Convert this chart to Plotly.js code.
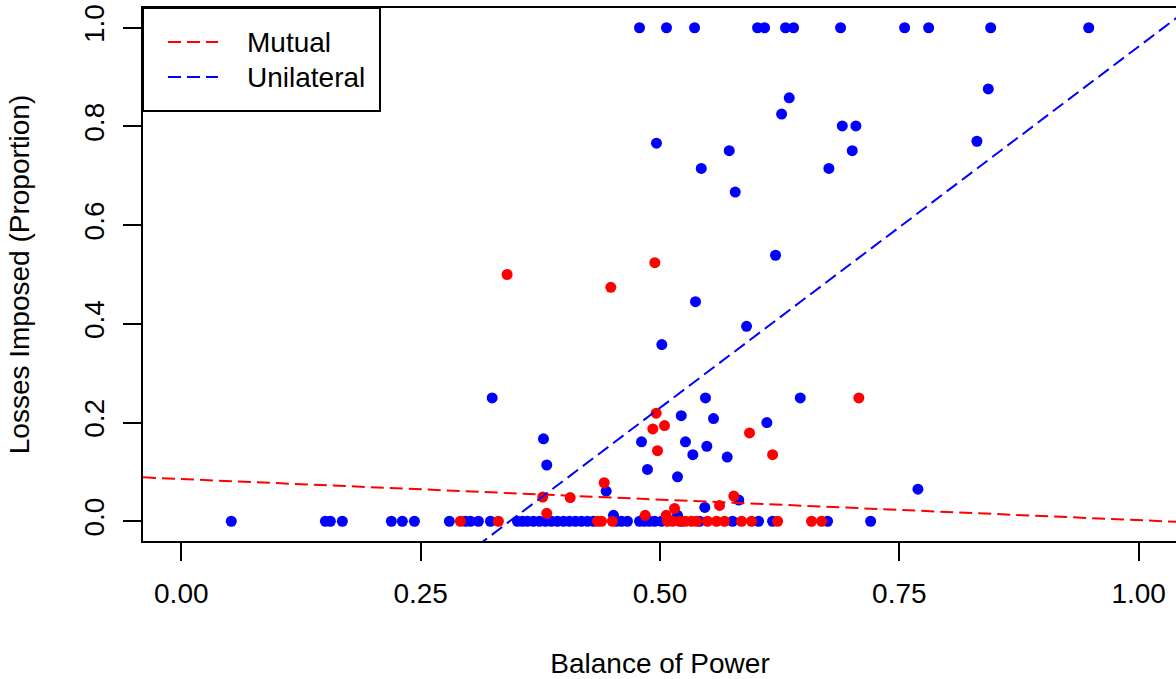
<!DOCTYPE html>
<html>
<head>
<meta charset="utf-8">
<script src="https://cdn.plot.ly/plotly-3.0.1.min.js"></script>
<style>
html,body{margin:0;padding:0;overflow:hidden;background:#fff;}
#chart{width:1178px;height:679px;}
</style>
</head>
<body>
<div id="chart"></div>
<script>
// ---- Data ----
const mutualX = [0.2915,0.3312,0.4347,0.4389,0.4503,0.5078,0.5131,0.5204,0.5266,0.5329,0.5381,0.5496,0.5590,0.5674,0.5852,0.5956,0.6228,0.6583,0.6688,
  0.3403,0.4946,0.4486,0.7077,0.4960,0.5047,0.4925,0.5935,0.4974,0.6176,0.4417,0.3775,0.4062,0.5771,0.5622,0.5152,0.3817,0.4845,0.5065];
const mutualY = [0,0,0,0,0,0,0,0,0,0,0,0,0,0,0,0,0,0,0,
  0.500,0.524,0.474,0.250,0.219,0.194,0.187,0.179,0.143,0.135,0.078,0.049,0.048,0.051,0.032,0.026,0.016,0.012,0.012];

const unilateralX = [0.0522,0.1505,0.1557,0.1682,0.2194,0.2309,0.2435,0.2800,0.2968,0.3020,0.3103,0.3229,
  0.3511,0.3563,0.3615,0.3678,0.3741,0.3804,0.3866,0.3929,0.3992,0.4054,0.4117,0.4180,0.4242,0.4305,
  0.4545,0.4598,0.4660,0.4786,0.4838,0.4890,0.4943,0.5016,0.5225,0.5413,0.5758,0.6029,0.6176,0.6750,0.7200,
  0.4786,0.5068,0.5361,0.6019,0.6092,0.6311,0.6395,0.6886,0.7555,0.7806,0.8454,0.9478,
  0.8429,0.6350,0.6270,0.6904,0.7046,0.4963,0.8310,0.5723,0.7008,0.5431,0.6764,0.5786,0.6207,0.5371,0.5904,0.5019,
  0.3247,0.5475,0.6465,0.5222,0.5559,0.6116,0.3783,0.4807,0.5266,0.5489,0.5343,0.5702,0.3817,0.4869,0.5183,
  0.4438,0.7694,0.5823,0.5468,0.4514,0.5183];
const unilateralY = [0,0,0,0,0,0,0,0,0,0,0,0,
  0,0,0,0,0,0,0,0,0,0,0,0,0,0,
  0,0,0,0,0,0,0,0,0,0,0,0,0,0,0,
  1,1,1,1,1,1,1,1,1,1,1,1,
  0.876,0.858,0.825,0.801,0.801,0.766,0.770,0.751,0.751,0.715,0.715,0.667,0.539,0.445,0.395,0.358,
  0.250,0.250,0.250,0.214,0.208,0.200,0.167,0.161,0.161,0.152,0.135,0.130,0.114,0.105,0.090,
  0.061,0.065,0.043,0.028,0.012,0.012];

// fitted lines: intercept and slope per group
const lineNames = ["Mutual", "Unilateral"];
const lineIntercepts = [0.0856, -0.5024];
const lineSlopes = [-0.0834, 1.4644];
const lineColors = ["#ff0000", "#0000ff"];

const xTickVals = [0, 0.25, 0.5, 0.75, 1];
const xTickText = ["0.00", "0.25", "0.50", "0.75", "1.00"];
const yTickVals = [0, 0.2, 0.4, 0.6, 0.8, 1];
const yTickText = ["0.0", "0.2", "0.4", "0.6", "0.8", "1.0"];

const xRange = [-0.04, 1.04];
const yRange = [-0.04, 1.04];
const FONT = "Liberation Sans, Arial, Helvetica, sans-serif";
const DASH = "13px,6px";

const traces = [];
traces.push({
  x: unilateralX, y: unilateralY, type: "scatter", mode: "markers",
  marker: {color: "#0000ff", size: 11}, showlegend: false, hoverinfo: "x+y", cliponaxis: true
});
traces.push({
  x: mutualX, y: mutualY, type: "scatter", mode: "markers",
  marker: {color: "#ff0000", size: 11}, showlegend: false, hoverinfo: "x+y", cliponaxis: true
});
for (let i = 0; i < lineNames.length; i++) {
  traces.push({
    x: xRange,
    y: xRange.map(v => lineIntercepts[i] + lineSlopes[i] * v),
    type: "scatter", mode: "lines", name: lineNames[i],
    line: {color: lineColors[i], width: 2, dash: DASH},
    showlegend: false, hoverinfo: "skip"
  });
}

// legend drawn in paper coords at the top-left corner of the plot
const shapes = [
  {type: "rect", xref: "paper", yref: "paper", x0: 0, x1: 0.2292, y0: 0.8068, y1: 1,
   line: {color: "#000", width: 2}, fillcolor: "#fff", layer: "above"},
  {type: "line", xref: "paper", yref: "paper", x0: 0.0242, x1: 0.0726, y0: 0.9362, y1: 0.9362,
   line: {color: lineColors[0], width: 2, dash: DASH}, layer: "above"},
  {type: "line", xref: "paper", yref: "paper", x0: 0.0242, x1: 0.0726, y0: 0.8705, y1: 0.8705,
   line: {color: lineColors[1], width: 2, dash: DASH}, layer: "above"}
];
const annotations = [
  {xref: "paper", yref: "paper", x: 0.0985, y: 0.9362, xanchor: "left", yanchor: "middle",
   text: lineNames[0], showarrow: false, font: {family: FONT, size: 28, color: "#000"}},
  {xref: "paper", yref: "paper", x: 0.0985, y: 0.8705, xanchor: "left", yanchor: "middle",
   text: lineNames[1], showarrow: false, font: {family: FONT, size: 28, color: "#000"}}
];

const layout = {
  width: 1178, height: 679,
  margin: {l: 143, r: 1, t: 8, b: 138},
  paper_bgcolor: "#fff", plot_bgcolor: "#fff",
  font: {family: FONT, size: 28, color: "#000"},
  showlegend: false,
  xaxis: {
    range: xRange, tickmode: "array", tickvals: xTickVals, ticktext: xTickText,
    showgrid: false, zeroline: false, showline: true, mirror: true,
    linecolor: "#000", linewidth: 2, ticks: "outside", ticklen: 18, tickwidth: 2, tickcolor: "#000",
    ticklabelstandoff: 8,
    tickfont: {family: FONT, size: 28, color: "#000"},
    title: {text: "Balance of Power", font: {family: FONT, size: 28, color: "#000"}, standoff: 48}
  },
  yaxis: {
    range: yRange, tickmode: "array", tickvals: yTickVals, ticktext: yTickText, tickangle: -90,
    showgrid: false, zeroline: false, showline: true, mirror: true,
    linecolor: "#000", linewidth: 2, ticks: "outside", ticklen: 18, tickwidth: 2, tickcolor: "#000",
    ticklabelstandoff: 8,
    tickfont: {family: FONT, size: 28, color: "#000"},
    title: {text: "Losses Imposed (Proportion)", font: {family: FONT, size: 28, color: "#000"}, standoff: 41}
  },
  shapes: shapes,
  annotations: annotations
};

Plotly.newPlot("chart", traces, layout, {displayModeBar: false, staticPlot: true});
</script>
</body>
</html>
